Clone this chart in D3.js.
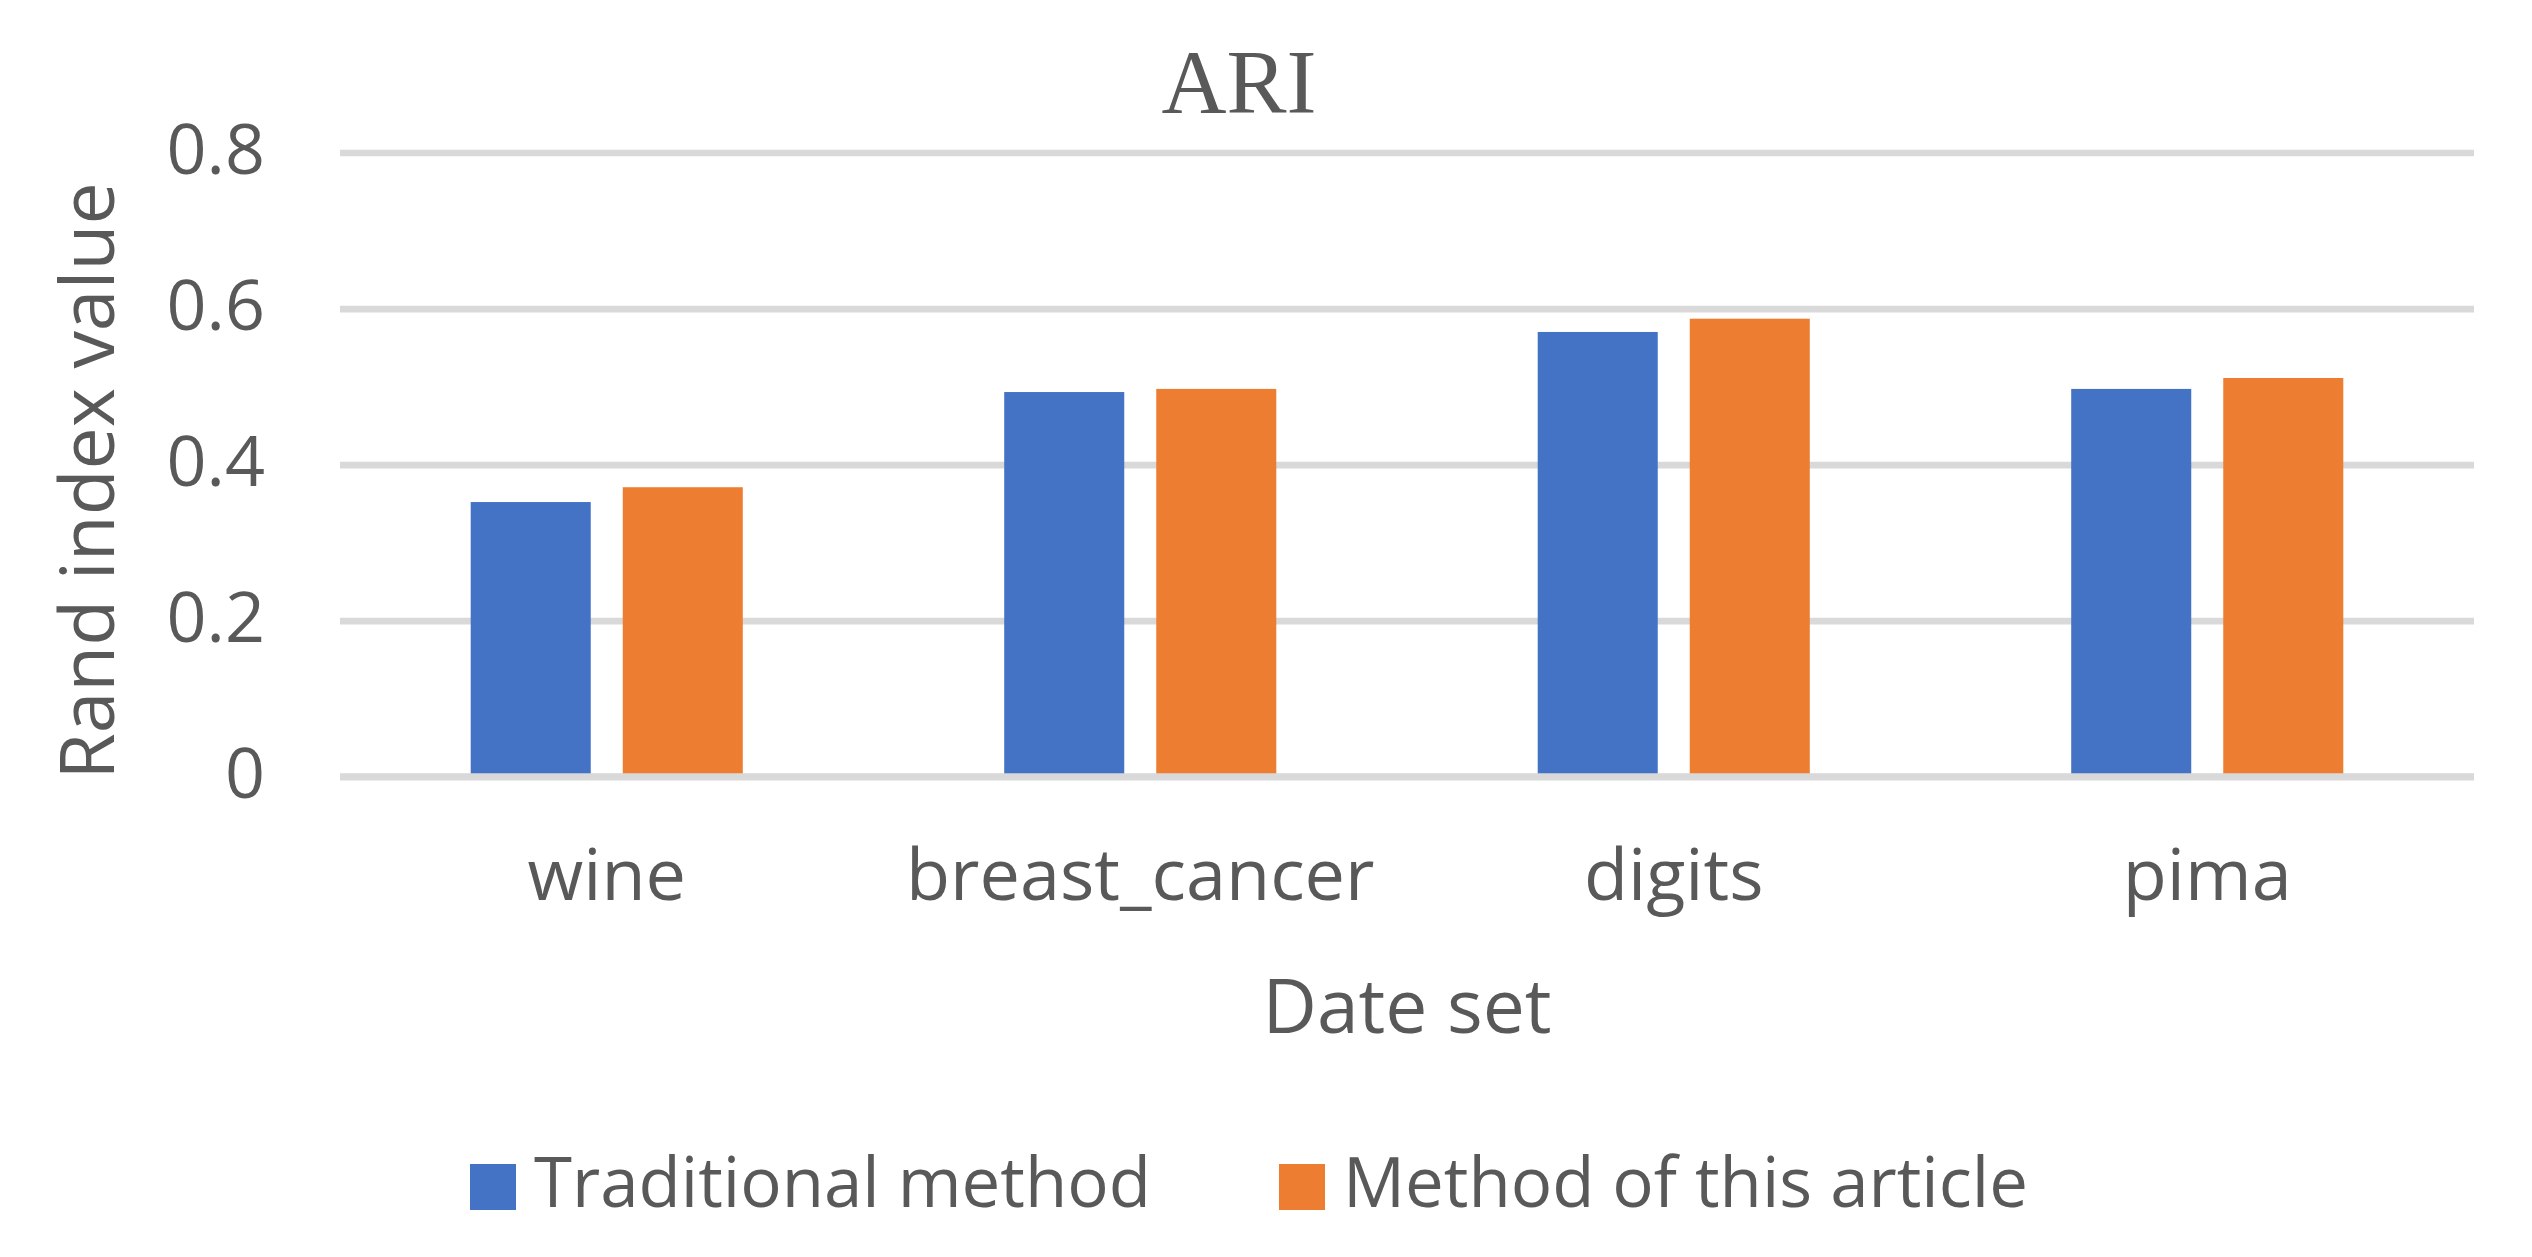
<!DOCTYPE html>
<html>
<head>
<meta charset="utf-8">
<script src="https://cdn.jsdelivr.net/npm/d3@7"></script>
<style>
  html, body { margin: 0; padding: 0; background: #ffffff; }
  svg { display: block; }
  text { font-family: "Open Sans", "Noto Sans", sans-serif; fill: #595959; }
</style>
</head>
<body>
<script>
// ---- data ----
const categories = ["wine", "breast_cancer", "digits", "pima"];
const seriesNames = ["Traditional method", "Method of this article"];
const traditional = [0.352, 0.493, 0.570, 0.497];
const proposed = [0.371, 0.497, 0.587, 0.511];
const yTicks = [0, 0.2, 0.4, 0.6, 0.8];
const tickLabels = ["0", "0.2", "0.4", "0.6", "0.8"];
const colors = ["#4472C4", "#ED7D31"];
const chartTitle = "ARI";
const xTitle = "Date set";
const yTitle = "Rand index value";

// ---- layout ----
const W = 2532, H = 1257;
const plot = { left: 340, right: 2474, top: 152.5, bottom: 776.7 };

const svg = d3.select("body").append("svg")
  .attr("width", W).attr("height", H);

const rows = categories.map((c, i) => ({ cat: c, values: [traditional[i], proposed[i]] }));

const x0 = d3.scaleBand()
  .domain(categories)
  .range([plot.left, plot.right])
  .paddingInner(0.49)
  .paddingOuter(0.245);

const x1 = d3.scaleBand()
  .domain([0, 1])
  .range([0, x0.bandwidth()])
  .paddingInner(0.2105)
  .paddingOuter(0);

const y = d3.scaleLinear().domain([0, 0.8]).range([plot.bottom, plot.top]);

// gridlines + y tick labels
const yAxis = d3.axisLeft(y)
  .tickValues(yTicks)
  .tickFormat((d, i) => tickLabels[i])
  .tickSize(-(plot.right - plot.left))
  .tickPadding(75);

const gy = svg.append("g")
  .attr("transform", `translate(${plot.left},0)`)
  .call(yAxis);
gy.select(".domain").remove();
gy.selectAll(".tick line").attr("stroke", "#d9d9d9").attr("stroke-width", 6.7);
gy.selectAll(".tick text")
  .attr("font-size", 70)
  .attr("fill", "#595959")
  .attr("dy", "0.3em")
  .style("font-family", "'Open Sans', sans-serif");

// bars
const groups = svg.append("g").selectAll("g")
  .data(rows).join("g")
  .attr("transform", d => `translate(${x0(d.cat)},0)`);

groups.selectAll("rect")
  .data(d => d.values.map((v, k) => ({ k, v })))
  .join("rect")
  .attr("x", d => x1(d.k))
  .attr("width", x1.bandwidth())
  .attr("y", d => y(d.v))
  .attr("height", d => y(0) - y(d.v))
  .attr("fill", d => colors[d.k]);

// baseline over bars
svg.append("line")
  .attr("x1", plot.left).attr("x2", plot.right)
  .attr("y1", y(0)).attr("y2", y(0))
  .attr("stroke", "#d9d9d9").attr("stroke-width", 6.7);

// x axis labels
const xAxis = d3.axisBottom(x0).tickSize(0).tickPadding(0);
const gx = svg.append("g")
  .attr("transform", `translate(0,${y(0)})`)
  .call(xAxis);
gx.select(".domain").remove();
gx.selectAll(".tick text")
  .attr("y", 123.3)
  .attr("dy", 0)
  .attr("font-size", 72)
  .attr("fill", "#595959")
  .style("font-family", "'Open Sans', sans-serif");

// title
svg.append("text")
  .attr("x", 1239).attr("y", 113)
  .attr("text-anchor", "middle")
  .attr("font-size", 90)
  .style("font-family", "'Liberation Serif', 'Times New Roman', serif")
  .text(chartTitle);

// x title
svg.append("text")
  .attr("x", (plot.left + plot.right) / 2).attr("y", 1033)
  .attr("text-anchor", "middle")
  .attr("font-size", 75)
  .text(xTitle);

// y title
svg.append("text")
  .attr("transform", "translate(114,481) rotate(-90)")
  .attr("text-anchor", "middle")
  .attr("font-size", 75)
  .text(yTitle);

// legend
const legendX = [470, 1279];
const legend = svg.append("g").selectAll("g")
  .data(seriesNames).join("g")
  .attr("transform", (d, i) => `translate(${legendX[i]},1164)`);
legend.append("rect")
  .attr("width", 46).attr("height", 46)
  .attr("fill", (d, i) => colors[i]);
legend.append("text")
  .attr("x", 64).attr("y", 43)
  .attr("font-size", 69)
  .text(d => d);
</script>
</body>
</html>
